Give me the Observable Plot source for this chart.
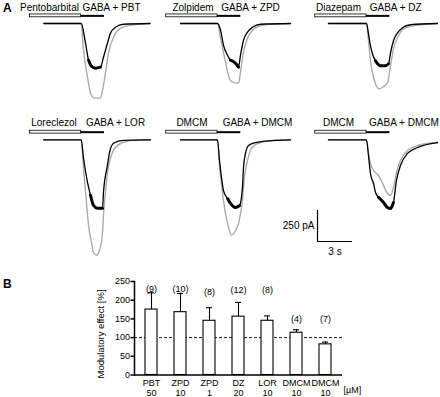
<!DOCTYPE html>
<html><head><meta charset="utf-8">
<script src="https://cdn.jsdelivr.net/npm/d3@7"></script>
<script src="https://cdn.jsdelivr.net/npm/@observablehq/plot@0.6"></script>
<style>
html,body{margin:0;padding:0;background:#fff;}
#fig{position:relative;width:440px;height:397px;overflow:hidden;font-family:"Liberation Sans",Arial,sans-serif;color:#000;}
.lab{position:absolute;font-weight:bold;font-size:12px;line-height:12px;}
.ytitle{position:absolute;font-size:9.5px;line-height:10px;white-space:nowrap;transform:translate(-50%,-50%) rotate(-90deg);}
</style></head><body><div id="fig"></div>
<script>
// ---------- Panel A data: time (s, relative to GABA onset), current (pA) ----------
const pbtControl = [[-3.2,0],[0,0],[0.37,-159],[0.63,-296],[0.88,-344],[1.23,-360],[1.65,-352],[1.91,-272],[2.25,-159],[2.51,-78],[2.94,-30],[3.62,-6],[5.9,0]];
const pbtDrug    = [[-3.2,0],[0,0],[0.2,-215],[0.54,-433],[0.8,-563],[1.14,-602],[1.65,-602],[1.83,-538],[2.08,-401],[2.34,-239],[2.77,-110],[3.37,-38],[4.22,-14],[5.9,0]];
const zpdControl = [[-3.17,0],[0,0],[0.26,-54],[0.51,-175],[0.86,-256],[1.11,-296],[1.54,-320],[1.8,-352],[1.97,-256],[2.23,-135],[2.57,-70],[3.0,-30],[3.68,-6],[6.26,0]];
const zpdDrug    = [[-3.17,0],[0,0],[0.26,-118],[0.69,-312],[0.94,-417],[1.29,-473],[1.8,-481],[1.97,-393],[2.23,-231],[2.57,-118],[3.0,-54],[3.51,-22],[4.54,-6],[6.26,0]];
const dzControl  = [[-3.26,0],[0,0],[0.17,-83],[0.34,-180],[0.51,-244],[0.77,-301],[1.2,-341],[1.63,-341],[1.89,-325],[2.06,-236],[2.31,-139],[2.66,-75],[3.08,-35],[3.77,-10],[6.08,0]];
const dzDrug     = [[-3.26,0],[0,0],[0.17,-139],[0.34,-301],[0.51,-397],[0.77,-486],[1.03,-526],[1.46,-510],[1.8,-478],[2.06,-341],[2.31,-204],[2.66,-115],[3.17,-43],[4.03,-19],[6.08,0]];
const lorControl = [[-3.23,0],[0,0],[0.2,-149],[0.54,-343],[0.8,-447],[1.05,-528],[1.4,-552],[1.83,-552],[1.91,-423],[2.25,-206],[2.43,-101],[2.77,-28],[3.62,-4],[5.94,0]];
const lorDrug    = [[-3.23,0],[0,0],[0.2,-230],[0.45,-504],[0.63,-689],[0.88,-826],[1.05,-907],[1.31,-931],[1.57,-891],[1.83,-746],[1.91,-608],[2.08,-423],[2.25,-262],[2.51,-149],[2.94,-60],[3.62,-20],[4.83,0],[5.94,0]];
const dmcmControl = [[-3.17,0],[0,0],[0.17,-167],[0.34,-304],[0.51,-409],[0.86,-474],[1.11,-513],[1.54,-546],[1.89,-530],[2.14,-384],[2.23,-223],[2.4,-110],[2.66,-46],[3.26,-22],[4.71,-6],[6.26,0]];
const dmcmDrug    = [[-3.17,0],[0,0],[0.17,-207],[0.34,-352],[0.51,-489],[0.69,-594],[0.94,-707],[1.2,-771],[1.46,-747],[1.8,-675],[2.14,-489],[2.31,-304],[2.57,-167],[2.83,-86],[3.43,-30],[4.71,-6],[6.26,0]];
const dmcm2Control = [[-3.26,0],[0,0],[0.17,-127],[0.34,-272],[0.6,-352],[0.77,-425],[1.03,-465],[1.46,-505],[1.8,-546],[2.06,-554],[2.31,-505],[2.57,-328],[2.91,-207],[3.51,-110],[4.37,-62],[6.08,-22]];
const dmcm2Drug    = [[-3.26,0],[0,0],[0.17,-110],[0.34,-191],[0.6,-247],[1.03,-288],[1.46,-368],[1.8,-433],[2.06,-449],[2.31,-384],[2.57,-264],[2.91,-167],[3.51,-86],[4.37,-46],[6.08,-22]];

const modNames  = ["Pentobarbital","Zolpidem","Diazepam","Loreclezol","DMCM","DMCM"];
const gabaNames = ["GABA + PBT","GABA + ZPD","GABA + DZ","GABA + LOR","GABA + DMCM","GABA + DMCM"];
const controlTraces = [pbtControl, zpdControl, dzControl, lorControl, dmcmControl, dmcm2Control];
const drugTraces    = [pbtDrug, zpdDrug, dzDrug, lorDrug, dmcmDrug, dmcm2Drug];
const preStart = -4.4, gabaOn = 0, gabaOff = 2;       // application protocol (s)
const scaleBarPA = 250, scaleBarS = 3;

// ---------- Panel B data ----------
const drugs  = ["PBT","ZPD","ZPD","DZ","LOR","DMCM","DMCM"];
const doses  = ["50","10","1","20","10","10","10"];
const means  = [175,168,145,156,145,113,82];
const sems   = [45,50,35,38,13,8,6];
const nCells = ["(9)","(10)","(8)","(12)","(8)","(4)","(7)"];

// ---------- layout ----------
const fig = document.getElementById("fig");
const FONT = '"Liberation Sans", Arial, sans-serif';
const PX_PER_S = 35/3, PA_PER_PX = 250/31;
const colLeft = [0,145,290], onsetPx = [80.7,72,76];
const rowTop = [0,110], rowBase = [23,29.3], rowH = [110,160], labelPA = [99,115];
const modLabelT = [-2.72,-2.1,-2.4,-2.33,-2.19,-2.4];
const gabaLabelT = [2.6,2.83,2.5,2.94,3.43,3.21];

function place(el, left, top){ el.style.position="absolute"; el.style.left=left+"px"; el.style.top=top+"px"; fig.appendChild(el); }

for (let i = 0; i < 6; i++) {
  const c = i % 3, r = Math.floor(i / 3);
  const W = 150, H = rowH[r], xo = onsetPx[c], yb = rowBase[r];
  const ctl = controlTraces[i];
  const peak = d3.min(ctl, d => d[1]);
  const marks = [
    Plot.rect([{a: preStart, b: gabaOn}], {x1: "a", x2: "b", y1: () => 50, y2: () => 73, fill: "white", stroke: "black", strokeWidth: 0.8}),
    Plot.ruleY([{a: gabaOn, b: gabaOff}], {x1: "a", x2: "b", y: () => 61.5, stroke: "black", strokeWidth: 2}),
    Plot.text([{t: modLabelT[i], s: modNames[i]}], {x: "t", y: () => labelPA[r], text: "s", lineAnchor: "bottom", fontSize: 10}),
    Plot.text([{t: gabaLabelT[i], s: gabaNames[i]}], {x: "t", y: () => labelPA[r], text: "s", lineAnchor: "bottom", fontSize: 10}),
    Plot.line(drugTraces[i], {x: d => d[0], y: d => d[1], stroke: "#ababab", strokeWidth: 1.4, curve: "monotone-x"}),
    Plot.line(ctl, {x: d => d[0], y: d => d[1], stroke: "#000", strokeWidth: 1.3, curve: "monotone-x"}),
    // thicker stroke where the recording is noisy (around the current plateau)
    Plot.line(ctl, {filter: d => d[1] <= peak * 0.78, x: d => d[0], y: d => d[1], stroke: "#000", strokeWidth: 3, curve: "monotone-x"})
  ];
  if (i === 5) {
    const sb = [{t: -4.2, top: -570}];
    marks.push(
      Plot.ruleX(sb, {x: "t", y1: "top", y2: d => d.top - scaleBarPA, stroke: "black", strokeWidth: 1.2}),
      Plot.ruleY(sb, {y: d => d.top - scaleBarPA, x1: "t", x2: d => d.t + scaleBarS, stroke: "black", strokeWidth: 1.2}),
      Plot.text(sb, {x: "t", y: d => d.top - scaleBarPA / 2, text: () => scaleBarPA + " pA", textAnchor: "end", dx: -3, fontSize: 10}),
      Plot.text(sb, {x: d => d.t + scaleBarS / 2, y: d => d.top - scaleBarPA, text: () => scaleBarS + " s", dy: 10, fontSize: 10})
    );
  }
  const p = Plot.plot({
    width: W, height: H, margin: 0,
    x: {domain: [-xo / PX_PER_S, (W - xo) / PX_PER_S], axis: null},
    y: {domain: [-(H - yb) * PA_PER_PX, yb * PA_PER_PX], axis: null},
    style: {background: "transparent", overflow: "visible", fontFamily: FONT, color: "#000"},
    marks
  });
  place(p, colLeft[c], rowTop[r]);
}

// ---------- Panel B ----------
const barData = drugs.map((d, i) => ({i, drug: d, dose: doses[i], mean: means[i], sem: sems[i], n: nCells[i]}));
const nLabelY = [230,230,222,226,226,149,149];
const pb = Plot.plot({
  width: 440, height: 127, marginLeft: 134, marginRight: 98, marginTop: 11, marginBottom: 22.5,
  x: {type: "band", domain: d3.range(7), paddingInner: 0.6, paddingOuter: 0.28, axis: null},
  y: {domain: [0, 250], axis: null},
  style: {background: "transparent", overflow: "visible", fontFamily: FONT, color: "#000"},
  marks: [
    Plot.ruleY([100], {strokeDasharray: "3,2", strokeWidth: 0.9}),
    Plot.ruleX(barData, {x: "i", y1: "mean", y2: d => d.mean + d.sem, strokeWidth: 1.1}),
    Plot.tickY(barData, {x: "i", y: d => d.mean + d.sem, insetLeft: 3, insetRight: 3, strokeWidth: 1.1}),
    Plot.barY(barData, {x: "i", y: "mean", fill: "white", stroke: "black", strokeWidth: 1.1}),
    Plot.text(barData, {x: "i", y: (d, j) => nLabelY[j], text: "n", fontSize: 9}),
    Plot.text(barData, {x: "i", y: () => 0, text: "drug", dy: 8.5, fontSize: 9}),
    Plot.text(barData, {x: "i", y: () => 0, text: "dose", dy: 18, fontSize: 9}),
    Plot.text(["[µM]"], {frameAnchor: "bottom-right", textAnchor: "start", dx: 1, dy: 18, fontSize: 9}),
    Plot.axisY({ticks: [0,50,100,150,200,250], tickSize: 3.5, tickPadding: 1, strokeWidth: 1.5, fontSize: 9, label: null}),
    Plot.frame({anchor: "left", strokeWidth: 1.5}),
    Plot.ruleY([0], {strokeWidth: 1.5})
  ]
});
place(pb, 0, 270);

// y-axis title of panel B (rotated)
const yt = document.createElement("div"); yt.className = "ytitle"; yt.textContent = "Modulatory effect [%]"; place(yt, 101, 334);

// panel letters
const A = document.createElement("div"); A.className = "lab"; A.textContent = "A"; place(A, 3, 2);
const B = document.createElement("div"); B.className = "lab"; B.textContent = "B"; place(B, 3, 278);
</script></body></html>
